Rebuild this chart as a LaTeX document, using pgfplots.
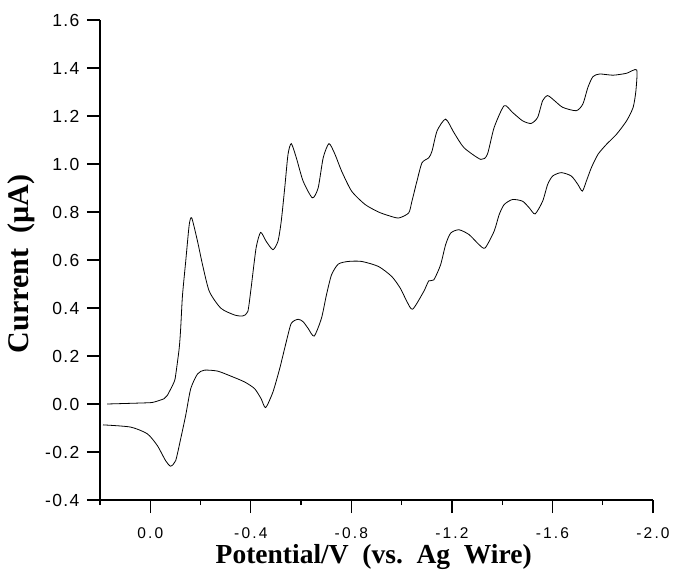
\documentclass[border=0pt]{standalone}
\usepackage{fontspec}
\setmainfont{Liberation Serif}
\newfontfamily\ytickfont[LetterSpace=8]{Liberation Sans}
\newfontfamily\xtickfont[LetterSpace=14]{Liberation Sans}
\usepackage{pgfplots}
\pgfplotsset{compat=1.18}

% cyclic voltammogram, forward scan then return scan
\pgfplotstableread{
E I
0.172 0.000
0.012 0.005
-0.015 0.008
-0.055 0.022
-0.068 0.036
-0.095 0.092
-0.101 0.120
-0.115 0.231
-0.121 0.315
-0.128 0.450
-0.141 0.594
-0.155 0.747
-0.165 0.775
-0.188 0.678
-0.208 0.580
-0.235 0.469
-0.281 0.399
-0.335 0.371
-0.368 0.367
-0.388 0.385
-0.401 0.482
-0.421 0.650
-0.439 0.715
-0.461 0.678
-0.488 0.643
-0.508 0.678
-0.521 0.761
-0.535 0.901
-0.548 1.040
-0.561 1.085
-0.581 1.026
-0.608 0.929
-0.645 0.859
-0.668 0.901
-0.688 1.026
-0.711 1.085
-0.735 1.040
-0.761 0.971
-0.801 0.887
-0.855 0.831
-0.908 0.800
-0.948 0.785
-0.988 0.775
-1.028 0.796
-1.041 0.845
-1.061 0.929
-1.081 1.005
-1.108 1.026
-1.121 1.054
-1.141 1.138
-1.175 1.187
-1.208 1.131
-1.248 1.068
-1.315 1.019
-1.341 1.040
-1.368 1.152
-1.408 1.243
-1.441 1.215
-1.481 1.180
-1.515 1.169
-1.541 1.194
-1.561 1.264
-1.581 1.285
-1.608 1.264
-1.641 1.236
-1.695 1.222
-1.721 1.250
-1.741 1.319
-1.761 1.364
-1.788 1.375
-1.841 1.370
-1.895 1.378
-1.935 1.392
-1.932 1.305
-1.921 1.236
-1.895 1.180
-1.855 1.124
-1.815 1.082
-1.781 1.040
-1.755 0.985
-1.735 0.929
-1.719 0.887
-1.701 0.915
-1.675 0.950
-1.635 0.964
-1.601 0.950
-1.581 0.915
-1.561 0.845
-1.531 0.792
-1.508 0.817
-1.481 0.845
-1.441 0.852
-1.408 0.831
-1.388 0.789
-1.368 0.720
-1.332 0.650
-1.308 0.664
-1.268 0.706
-1.228 0.726
-1.195 0.712
-1.175 0.664
-1.155 0.580
-1.128 0.517
-1.108 0.513
-1.088 0.469
-1.044 0.395
-1.021 0.427
-0.995 0.482
-0.961 0.531
-0.908 0.573
-0.841 0.594
-0.788 0.594
-0.748 0.583
-0.721 0.538
-0.701 0.455
-0.681 0.357
-0.652 0.283
-0.628 0.315
-0.608 0.343
-0.588 0.353
-0.561 0.336
-0.541 0.259
-0.515 0.148
-0.488 0.050
-0.459 -0.015
-0.441 0.022
-0.415 0.064
-0.375 0.092
-0.321 0.116
-0.268 0.137
-0.215 0.141
-0.188 0.125
-0.161 0.064
-0.141 -0.047
-0.121 -0.145
-0.101 -0.236
-0.081 -0.259
-0.061 -0.236
-0.028 -0.173
0.012 -0.124
0.079 -0.096
0.188 -0.087
}\cvdata

\begin{document}
\begin{tikzpicture}
\useasboundingbox (-100pt,-75pt) rectangle (574pt,500pt);
\begin{axis}[
  at={(0,0)}, anchor=south west,
  scale only axis,
  width=553pt, height=480pt,
  x dir=reverse,
  xmin=-2.0, xmax=0.2, ymin=-0.4, ymax=1.6,
  axis x line=bottom, axis y line=left,
  axis line style={-, line width=1.5pt},
  tick align=outside,
  major tick length=13pt, minor tick length=5pt,
  tick style={line width=1.3pt, black},
  xtick={0,-0.4,-0.8,-1.2,-1.6,-2.0},
  xticklabels={0.0,-0.4,-0.8,-1.2,-1.6,-2.0},
  minor xtick={0.2,-0.2,-0.6,-1.0,-1.4,-1.8},
  ytick={-0.4,-0.2,0,0.2,0.4,0.6,0.8,1.0,1.2,1.4,1.6},
  yticklabels={-0.4,-0.2,0.0,0.2,0.4,0.6,0.8,1.0,1.2,1.4,1.6},
  xticklabel style={font=\xtickfont\fontsize{15.5}{16}\selectfont,
    inner sep=0pt, yshift=-14pt},
  yticklabel style={font=\ytickfont\fontsize{17.5}{18}\selectfont, xshift=-4pt},
  xlabel={Potential/V\ \ (vs.\ \ Ag\ \ Wire)},
  ylabel={Current\ \ (\textmu A)},
  xlabel style={font=\bfseries\fontsize{27.5}{28}\selectfont, inner sep=0pt,
    at={(axis description cs:0.495,0)}, anchor=base, yshift=-63pt},
  ylabel style={font=\bfseries\fontsize{30}{30}\selectfont,
    at={(axis description cs:-0.143,0.492)}, anchor=center},
]
\addplot[black, line width=0.8pt, smooth, tension=0.4] table[x=E, y=I] {\cvdata};
\end{axis}
\end{tikzpicture}
\end{document}
